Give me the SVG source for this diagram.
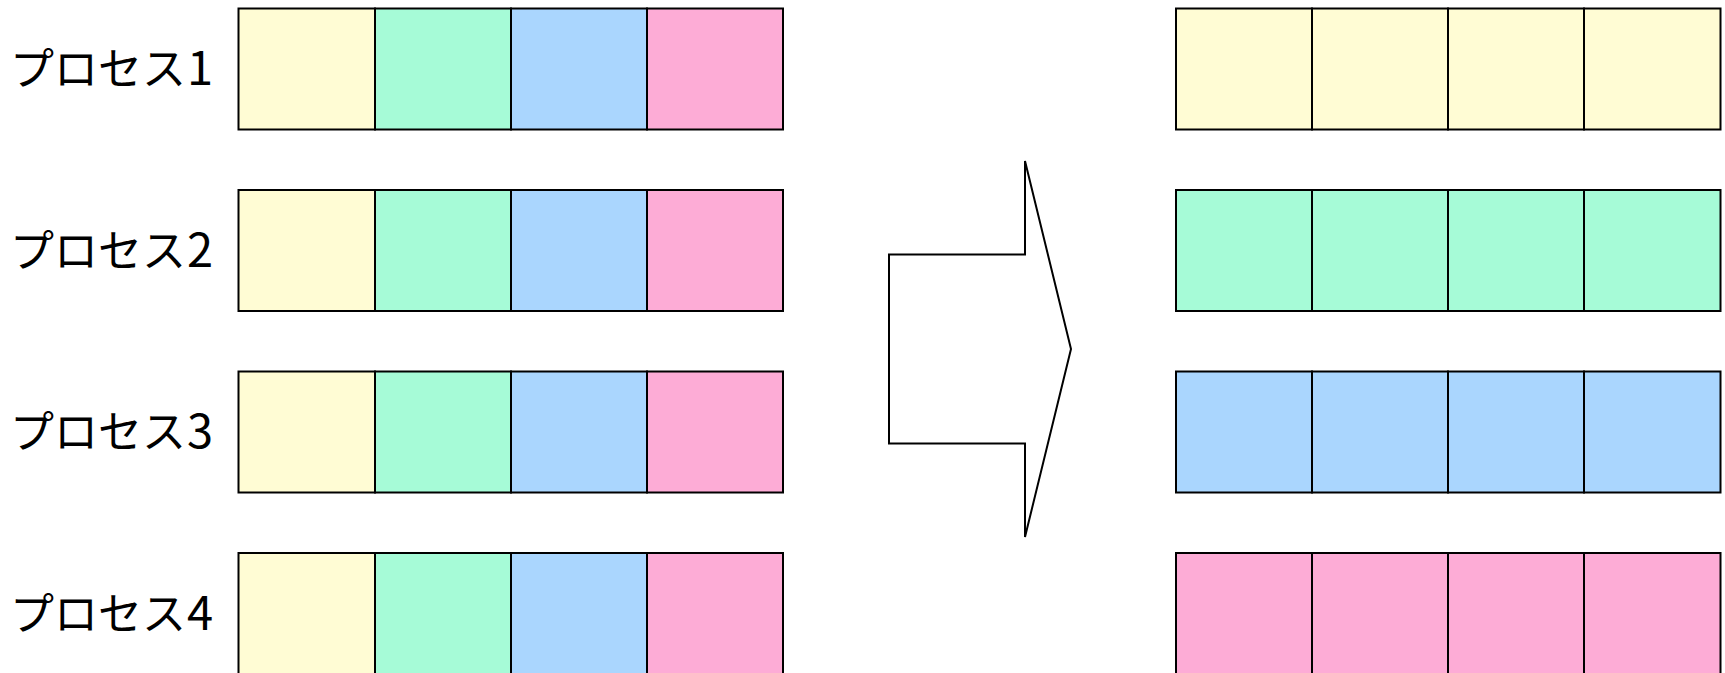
<svg xmlns="http://www.w3.org/2000/svg" width="1725" height="673" viewBox="0 0 1725 673">
<style>
.c{stroke:#000;stroke-width:2}
.y{fill:#FFFCD4}.g{fill:#A6FBD7}.b{fill:#AAD6FE}.p{fill:#FDACD6}
.t{font-family:"Noto Sans CJK JP","Noto Sans",sans-serif;font-size:44px;fill:#000}
.d{font-size:47px}
</style>
<rect width="1725" height="673" fill="#fff"/>
<g id="p1">
<text class="t" x="10" y="85">プロセス<tspan class="d" dx="1">1</tspan></text>
<rect class="c y" x="238.5" y="8.5" width="136.5" height="121"/>
<rect class="c g" x="375" y="8.5" width="136" height="121"/>
<rect class="c b" x="511" y="8.5" width="136" height="121"/>
<rect class="c p" x="647" y="8.5" width="136" height="121"/>
</g>
<g id="p2">
<text class="t" x="10" y="266.5">プロセス<tspan class="d" dx="1">2</tspan></text>
<rect class="c y" x="238.5" y="190" width="136.5" height="121"/>
<rect class="c g" x="375" y="190" width="136" height="121"/>
<rect class="c b" x="511" y="190" width="136" height="121"/>
<rect class="c p" x="647" y="190" width="136" height="121"/>
</g>
<g id="p3">
<text class="t" x="10" y="448">プロセス<tspan class="d" dx="1">3</tspan></text>
<rect class="c y" x="238.5" y="371.5" width="136.5" height="121"/>
<rect class="c g" x="375" y="371.5" width="136" height="121"/>
<rect class="c b" x="511" y="371.5" width="136" height="121"/>
<rect class="c p" x="647" y="371.5" width="136" height="121"/>
</g>
<g id="p4">
<text class="t" x="10" y="629.5">プロセス<tspan class="d" dx="1">4</tspan></text>
<rect class="c y" x="238.5" y="553" width="136.5" height="121"/>
<rect class="c g" x="375" y="553" width="136" height="121"/>
<rect class="c b" x="511" y="553" width="136" height="121"/>
<rect class="c p" x="647" y="553" width="136" height="121"/>
</g>
<g id="connectors">
<polygon points="1025,161 1071,349 1025,537 1025,443.5 889,443.5 889,254.5 1025,254.5" fill="#fff" stroke="#000" stroke-width="2" stroke-linejoin="miter"/>
</g>
<g id="r1">
<rect class="c y" x="1176" y="8.5" width="136" height="121"/>
<rect class="c y" x="1312" y="8.5" width="136" height="121"/>
<rect class="c y" x="1448" y="8.5" width="136" height="121"/>
<rect class="c y" x="1584" y="8.5" width="136.5" height="121"/>
</g>
<g id="r2">
<rect class="c g" x="1176" y="190" width="136" height="121"/>
<rect class="c g" x="1312" y="190" width="136" height="121"/>
<rect class="c g" x="1448" y="190" width="136" height="121"/>
<rect class="c g" x="1584" y="190" width="136.5" height="121"/>
</g>
<g id="r3">
<rect class="c b" x="1176" y="371.5" width="136" height="121"/>
<rect class="c b" x="1312" y="371.5" width="136" height="121"/>
<rect class="c b" x="1448" y="371.5" width="136" height="121"/>
<rect class="c b" x="1584" y="371.5" width="136.5" height="121"/>
</g>
<g id="r4">
<rect class="c p" x="1176" y="553" width="136" height="121"/>
<rect class="c p" x="1312" y="553" width="136" height="121"/>
<rect class="c p" x="1448" y="553" width="136" height="121"/>
<rect class="c p" x="1584" y="553" width="136.5" height="121"/>
</g>
</svg>
